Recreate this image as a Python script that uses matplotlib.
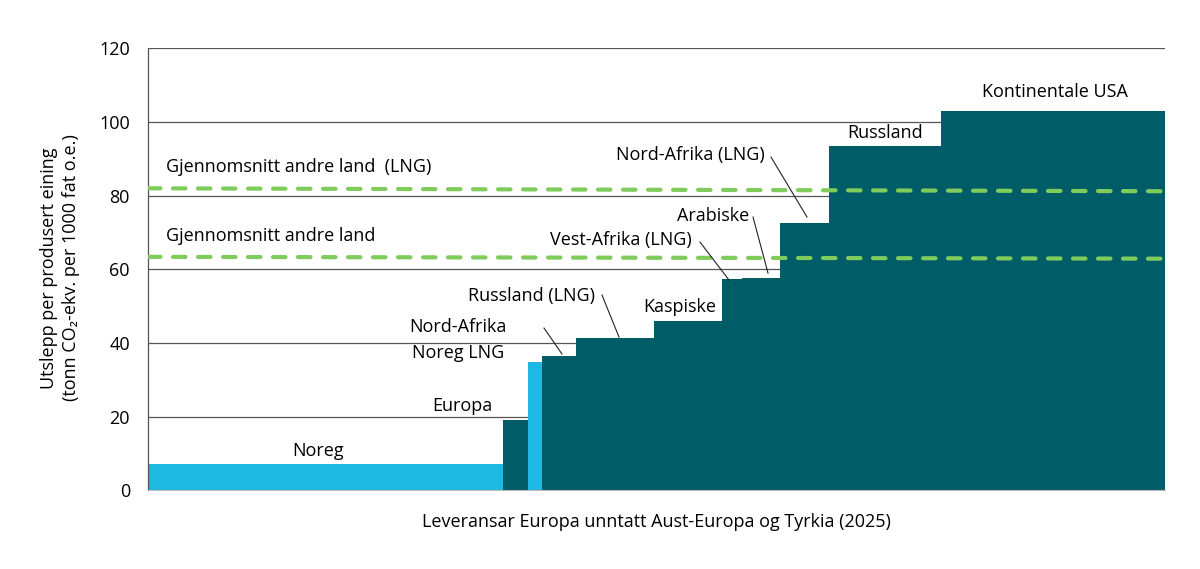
import matplotlib
matplotlib.use('Agg')
import matplotlib.pyplot as plt
import numpy as np

# suppliers in merit order (width = supply volume, height = emission intensity)
suppliers = ['Noreg', 'Europa', 'Noreg LNG', 'Nord-Afrika', 'Russland (LNG)', 'Kaspiske',
             'Vest-Afrika (LNG)', 'Arabiske', 'Nord-Afrika (LNG)', 'Russland', 'Kontinentale USA']
volumes = [355, 25, 14, 34, 78, 68, 20, 38, 49, 112, 224]
intensity = [7.2, 19.0, 34.9, 36.4, 41.4, 46.1, 57.4, 57.7, 72.6, 93.5, 103.0]
norwegian = [True, False, True, False, False, False, False, False, False, False, False]

avg_lng = [82.0, 81.2]    # start, end of the dashed line
avg_other = [63.4, 62.9]

yticks = [0, 20, 40, 60, 80, 100, 120]

light_blue = '#1fb8e2'
teal = '#005c67'
green = '#7fcc5c'

FS = 13
plt.rcParams['font.family'] = ['Open Sans', 'DejaVu Sans']
plt.rcParams['font.size'] = FS

fig = plt.figure(figsize=(12, 5.69), dpi=100)
ax = fig.add_axes([148 / 1200, 1 - 490.4 / 569, 1017 / 1200, (490.4 - 48.3) / 569])

lefts = np.concatenate([[0], np.cumsum(volumes)[:-1]])
total = sum(volumes)
colors = [light_blue if n else teal for n in norwegian]
ax.bar(lefts, intensity, width=volumes, align='edge', color=colors, linewidth=0, zorder=2)

for t in yticks[1:]:
    ax.axhline(t, color='#555555', lw=0.9, zorder=1)

ax.plot([0, total], avg_lng, color=green, lw=3, dashes=(3, 3), dash_capstyle='round', zorder=3)
ax.plot([0, total], avg_other, color=green, lw=3, dashes=(3, 3), dash_capstyle='round', zorder=3)

ax.set_xlim(0, total)
ax.set_ylim(0, 120)
ax.set_yticks(yticks)
ax.set_xticks([])
ax.tick_params(axis='y', length=0, pad=13, labelsize=FS)
for s in ['top', 'right']:
    ax.spines[s].set_visible(False)
ax.spines['left'].set_color('#555555')
ax.spines['left'].set_linewidth(0.9)
ax.spines['bottom'].set_color('#bbbbbb')
ax.spines['bottom'].set_linewidth(0.8)


def px(x, y):
    # pixel position in the picture -> data coordinates
    return x - 148, (490.4 - y) / 3.685


# labels: (text, centre x px, centre y px)
labels = [
    ('Noreg', 318, 451),
    ('Europa', 462, 406),
    ('Noreg LNG', 458, 353),
    ('Nord-Afrika', 458, 327),
    ('Russland (LNG)', 531, 296),
    ('Kaspiske', 680, 307),
    ('Vest-Afrika (LNG)', 621, 240),
    ('Arabiske', 713, 216),
    ('Nord-Afrika (LNG)', 690, 155),
    ('Russland', 885, 133),
    ('Kontinentale USA', 1055, 92),
]
for txt, x, y in labels:
    ax.text(*px(x, y), txt, ha='center', va='center', fontsize=FS, zorder=5)

ax.text(*px(166, 167), 'Gjennomsnitt andre land  (LNG)', ha='left', va='center', fontsize=FS, zorder=5)
ax.text(*px(166, 236), 'Gjennomsnitt andre land', ha='left', va='center', fontsize=FS, zorder=5)

# leader lines
leaders = [
    ((544, 328), (562, 354)),
    ((602, 295), (619, 337)),
    ((700, 242), (729, 280)),
    ((753, 217), (768, 273)),
    ((771, 157), (807, 217)),
]
for (x0, y0), (x1, y1) in leaders:
    a = px(x0, y0)
    b = px(x1, y1)
    ax.plot([a[0], b[0]], [a[1], b[1]], color='#222222', lw=0.8, zorder=4)

fig.text(60 / 1200, 1 - 268 / 569,
         'Utslepp per produsert eining\n(tonn CO₂-ekv. per 1000 fat o.e.)',
         rotation=90, ha='center', va='center', fontsize=FS, linespacing=1.25)
fig.text(656 / 1200, 1 - 522 / 569, 'Leveransar Europa unntatt Aust-Europa og Tyrkia (2025)',
         ha='center', va='center', fontsize=FS)

fig.savefig('out.png', dpi=100)
